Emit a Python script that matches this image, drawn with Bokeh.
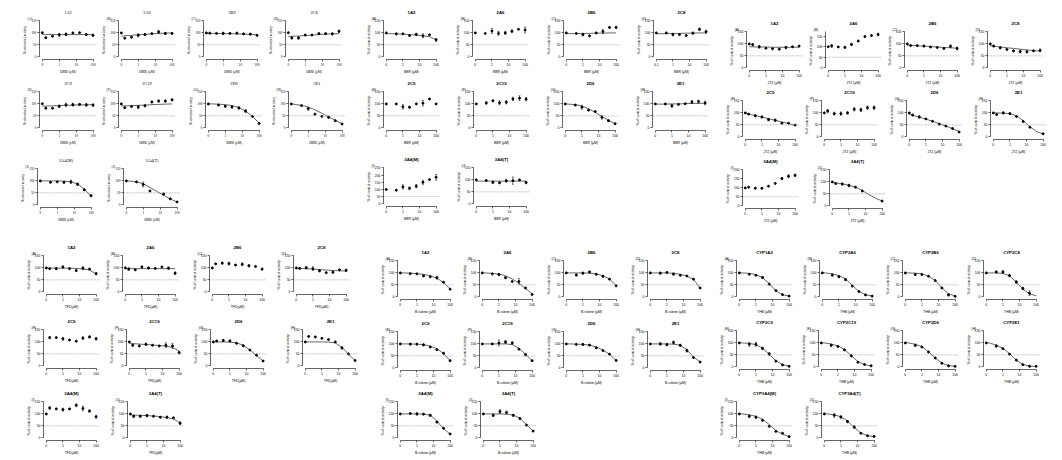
import math
from bokeh.plotting import figure
from bokeh.models import (FixedTicker, Span, Title, Whisker, TeeHead, ColumnDataSource, Spacer)
from bokeh.layouts import row, column
from bokeh.embed import file_html
from bokeh.resources import INLINE

# ---------------- data ----------------
CONC = [0, 0.16, 0.4, 1, 2.5, 6.4, 16, 40, 100]   # µM; 0 is drawn at the "0" tick
LETTERS = ["(A)", "(B)", "(C)", "(D)", "(E)", "(F)", "(G)", "(H)", "(I)", "(J)"]
ENZ = ["1A2", "2A6", "2B6", "2C8", "2C9", "2C19", "2D6", "2E1", "3A4(M)", "3A4(T)"]
THB_TITLES = ["CYP1A2", "CYP2A6", "CYP2B6", "CYP2C8", "CYP2C9", "CYP2C19",
              "CYP2D6", "CYP2E1", "CYP3A4(M)", "CYP3A4(T)"]
X_TICKS = [0.1, 1, 10, 100]
X_TICK_LABELS = ["0", "1", "10", "100"]
Y_LABEL = "% of control activity"

N = None
DMB_MEAN = [
    [101, 80, 86, 92, 94, 100, 101, 93, 90],
    [100, 78, 82, 90, 93, 97, 104, 98, 98],
    [100, 99, 98, 98, 98, 99, 96, 95, 90],
    [101, 79, 79, 91, 91, 97, 97, 96, 107],
    [101, 82, 82, 90, 96, 97, 98, 96, 95],
    [100, 84, 89, 87, 92, 108, 112, 112, 117],
    [100, N, 95, 90, 87, 83, 70, 48, 18],
    [100, N, 93, 80, 57, 48, 44, 30, 16],
    [100, N, 94, 96, 94, 96, 86, 63, 38],
    [100, N, 96, 85, 58, N, 45, 25, 12],
]
DMB_ERR = [
    [0, 2, 0, 6, 6, 0, 0, 4, 5],
    [0, 0, 0, 6, 4, 0, 7, 4, 4],
    [0, 3, 0, 5, 0, 3, 0, 3, 3],
    [0, 4, 5, 0, 0, 3, 3, 4, 5],
    [0, 2, 0, 5, 7, 6, 4, 6, 5],
    [0, 3, 0, 6, 4, 3, 4, 4, 4],
    [0, 0, 0, 3, 5, 5, 6, 0, 0],
    [0, 0, 0, 6, 0, 0, 4, 0, 0],
    [0, 0, 0, 0, 4, 7, 5, 3, 4],
    [0, 0, 0, 10, 0, 0, 4, 0, 0],
]
DMB_FIT = [
    [93, 93, 93, 93, 93, 93, 93, 93, 93],
    [86, 88, 90, 92, 94, 96, 98, 99, 100],
    [98, 98, 98, 97, 97, 96, 95, 94, 92],
    [85, 86, 87, 89, 91, 93, 95, 96, 97],
    [91, 91, 92, 93, 94, 95, 96, 96, 97],
    [91, 92, 93, 94, 95, 97, 98, 99, 100],
    [100, 100, 99, 97, 93, 85, 70, 48, 20],
    [100, 98, 94, 87, 75, 61, 46, 31, 17],
    [100, 100, 100, 100, 99, 96, 88, 65, 36],
    [100, 99, 96, 88, 73, 56, 40, 24, 12],
]
DMB_YTOP = [150] * 10

BBR_MEAN = [
    [100, N, 96, 96, 89, 94, 88, 92, 71],
    [100, N, 98, 108, 98, 100, 107, 115, 112],
    [100, N, 98, 93, 88, 100, 106, 123, 123],
    [100, N, 100, 93, 93, 89, 99, 115, 105],
    [100, N, 100, 88, 86, 100, 103, 121, 100],
    [100, N, 104, 113, 105, 107, 121, 124, 120],
    [100, N, 95, 86, 74, 68, 44, 30, 17],
    [100, N, 100, 92, 98, 101, 108, 110, 104],
    [100, N, 95, 118, 108, 123, 150, 169, 185],
    [100, N, 98, 90, 88, 96, 97, 100, 89],
]
BBR_ERR = [
    [0, 0, 3, 0, 0, 3, 8, 0, 6],
    [0, 0, 0, 10, 8, 6, 6, 0, 12],
    [0, 0, 0, 5, 0, 0, 8, 3, 5],
    [0, 0, 0, 5, 0, 0, 4, 5, 6],
    [0, 0, 0, 10, 4, 0, 12, 0, 0],
    [0, 0, 5, 4, 8, 7, 7, 10, 7],
    [0, 0, 0, 8, 0, 0, 8, 3, 0],
    [0, 0, 0, 6, 0, 0, 6, 6, 8],
    [0, 0, 0, 15, 10, 12, 14, 0, 20],
    [0, 0, 0, 5, 0, 5, 15, 0, 5],
]
BBR_FIT = [
    [97, 97, 96, 95, 93, 91, 88, 84, 71],
    N,
    [97, 97, 97, 98, 98, 99, 99, 100, 100],
    [97, 97, 97, 98, 98, 99, 99, 100, 100],
    N,
    N,
    [100, 99, 97, 91, 80, 65, 47, 31, 17],
    [99, 99, 99, 100, 100, 101, 102, 102, 103],
    N,
    [95, 95, 95, 95, 95, 95, 95, 95, 95],
]
BBR_YTOP = [150, 150, 150, 150, 150, 150, 150, 150, 250, 150]

JTZ_MEAN = [
    [100, 97, 88, 82, 80, 78, 85, 88, 91],
    [100, 104, 99, 97, 111, 127, 148, 153, 158],
    [100, 93, 93, 91, 87, 85, 81, 90, 81],
    [100, 91, 84, 77, 71, 68, 67, 71, 73],
    [100, 95, 88, 83, 72, 69, 57, 57, 49],
    [100, 108, 97, 97, 100, 115, 113, 122, 122],
    [100, 91, 83, 75, 65, 53, 45, 35, 20],
    [100, 93, 100, 97, 85, 64, 40, N, 13],
    [100, 104, 98, 98, 109, 125, 152, 165, 170],
    [100, 93, 91, 85, 78, 62, N, N, 20],
]
JTZ_ERR = [
    [0, 5, 6, 0, 0, 0, 5, 0, 0],
    [0, 6, 0, 5, 5, 0, 0, 0, 6],
    [0, 0, 0, 4, 0, 0, 0, 6, 6],
    [0, 3, 4, 0, 0, 6, 5, 0, 6],
    [0, 0, 4, 4, 5, 5, 0, 0, 0],
    [0, 7, 6, 7, 5, 7, 7, 7, 7],
    [0, 0, 5, 0, 0, 0, 0, 0, 0],
    [0, 0, 4, 4, 0, 0, 0, 0, 0],
    [0, 0, 0, 4, 0, 0, 6, 7, 7],
    [0, 0, 4, 5, 0, 0, 0, 0, 0],
]
JTZ_FIT = [
    [88, 88, 87, 87, 86, 86, 86, 86, 86],
    N,
    [95, 94, 92, 91, 89, 87, 85, 84, 82],
    [92, 90, 87, 84, 81, 78, 75, 72, 70],
    [98, 95, 89, 83, 76, 69, 62, 55, 48],
    N,
    [95, 90, 82, 74, 65, 55, 45, 34, 22],
    [100, 100, 99, 97, 88, 67, 42, 22, 12],
    N,
    [100, 96, 92, 86, 78, 64, 47, 32, 20],
]
JTZ_YTOP = [150, 170, 150, 150, 150, 150, 150, 150, 200, 150]

TFD_MEAN = [
    [100, 97, 97, 104, 97, 89, 99, 95, 76],
    [100, 95, 92, 104, 100, 98, 104, 99, 78],
    [100, 117, 120, 118, 112, 115, 109, 106, 95],
    [100, 98, 101, 97, 88, 80, 82, 92, 90],
    [N, 118, 118, 113, 108, 103, 116, 121, 113],
    [100, 86, 83, 90, 86, 83, 86, 83, 55],
    [100, 104, 106, 104, 94, 84, 66, 45, 20],
    [100, 123, 121, 115, 110, 100, 75, 50, 22],
    [100, 125, 121, 118, 121, 136, 123, 112, 88],
    [100, 90, 90, 93, 90, 86, 86, 84, 61],
]
TFD_ERR = [
    [0, 0, 4, 4, 0, 4, 6, 0, 5],
    [0, 6, 0, 4, 3, 0, 0, 5, 5],
    [0, 0, 4, 6, 0, 6, 5, 0, 4],
    [0, 0, 5, 8, 4, 0, 5, 0, 5],
    [0, 4, 0, 6, 0, 0, 5, 4, 5],
    [0, 4, 0, 5, 0, 0, 10, 10, 5],
    [0, 0, 4, 4, 0, 4, 0, 0, 0],
    [0, 0, 0, 0, 0, 0, 5, 0, 0],
    [0, 5, 0, 6, 0, 6, 10, 5, 6],
    [0, 5, 5, 5, 0, 0, 5, 0, 6],
]
TFD_FIT = [
    [99, 99, 99, 99, 99, 98, 96, 91, 75],
    [97, 97, 97, 97, 97, 97, 97, 97, 97],
    N,
    [99, 98, 97, 95, 93, 91, 89, 88, 87],
    N,
    [95, 93, 91, 89, 87, 85, 82, 77, 62],
    [100, 100, 100, 99, 96, 86, 66, 43, 20],
    [100, 100, 100, 100, 99, 96, 78, 48, 22],
    N,
    [96, 95, 94, 93, 91, 89, 85, 79, 62],
]
TFD_YTOP = [150] * 10

BRU_MEAN = [
    [100, N, 97, 96, 88, 84, 80, 61, 32],
    [100, N, 96, 93, 80, 64, 64, 37, 10],
    [100, N, 91, 99, 104, 94, 86, 74, 46],
    [100, N, 99, 102, 95, 90, 87, 74, 37],
    [100, N, 99, 99, 96, 87, 76, 61, 30],
    [100, N, 100, 104, 108, 104, 78, 55, 30],
    [100, N, 98, 98, 95, 84, 72, 57, 31],
    [100, N, 100, 97, 106, 94, 72, 43, 24],
    [100, N, 102, 100, 99, 94, 66, 40, 16],
    [100, N, 94, 110, 106, 94, 81, 53, 28],
]
BRU_ERR = [
    [0, 0, 0, 0, 4, 0, 6, 0, 0],
    [0, 0, 0, 4, 4, 0, 12, 0, 0],
    [0, 0, 4, 4, 4, 0, 4, 0, 0],
    [0, 0, 4, 0, 5, 0, 0, 0, 0],
    [0, 0, 3, 0, 4, 0, 0, 0, 0],
    [0, 0, 0, 12, 6, 5, 0, 5, 0],
    [0, 0, 0, 4, 0, 0, 0, 0, 0],
    [0, 0, 5, 5, 6, 4, 6, 0, 0],
    [0, 0, 0, 5, 0, 4, 3, 0, 0],
    [0, 0, 5, 8, 6, 4, 4, 0, 0],
]
BRU_FIT = [
    [100, 100, 99, 97, 94, 88, 78, 60, 33],
    [100, 100, 98, 95, 88, 75, 57, 35, 13],
    [100, 100, 100, 100, 99, 96, 88, 75, 47],
    [100, 100, 100, 100, 98, 94, 87, 73, 37],
    [100, 100, 100, 99, 97, 91, 80, 60, 30],
    [100, 100, 100, 100, 100, 97, 82, 57, 30],
    [100, 100, 99, 98, 95, 87, 74, 57, 31],
    [100, 100, 100, 100, 99, 95, 75, 45, 25],
    [100, 100, 100, 100, 99, 95, 70, 38, 16],
    [100, 100, 100, 100, 99, 95, 82, 55, 28],
]
BRU_YTOP = [150] * 10

THB_MEAN = [
    [100, N, 94, 90, 81, 53, 26, 9, 3],
    [100, N, 91, 84, 72, 45, 22, 8, 3],
    [100, N, 93, 93, 86, 68, 37, 8, 2],
    [100, N, 104, 104, 89, 62, 35, 15, N],
    [100, N, 94, 94, 77, 54, 24, 8, 2],
    [100, N, 90, 85, 71, 46, 19, 10, 4],
    [100, N, 90, 83, 62, 37, 15, 4, 2],
    [100, N, 87, 76, 53, 28, 9, 2, 2],
    [100, N, 90, 86, 73, 48, 27, 19, 5],
    [100, N, 94, 87, 68, 45, 19, 9, 6],
]
THB_ERR = [
    [0, 0, 0, 0, 4, 0, 0, 0, 0],
    [0, 0, 4, 4, 4, 0, 0, 0, 0],
    [0, 0, 4, 0, 0, 0, 0, 4, 0],
    [0, 0, 4, 5, 5, 5, 5, 10, 0],
    [0, 0, 8, 8, 5, 5, 0, 0, 0],
    [0, 0, 5, 0, 0, 4, 0, 0, 0],
    [0, 0, 5, 0, 0, 0, 0, 0, 0],
    [0, 0, 5, 0, 0, 0, 0, 0, 0],
    [0, 0, 5, 5, 0, 0, 0, 0, 0],
    [0, 0, 8, 5, 5, 5, 0, 0, 0],
]
THB_FIT = [
    [100, 100, 98, 93, 80, 55, 25, 9, 3],
    [100, 100, 96, 89, 75, 48, 23, 9, 3],
    [100, 100, 99, 96, 87, 68, 38, 13, 4],
    [100, 100, 100, 98, 88, 62, 32, 12, 5],
    [100, 100, 98, 93, 78, 52, 25, 9, 3],
    [100, 100, 95, 88, 72, 47, 22, 9, 4],
    [100, 100, 94, 85, 63, 37, 15, 5, 2],
    [100, 100, 90, 78, 55, 28, 10, 3, 1],
    [100, 100, 96, 90, 78, 55, 30, 15, 5],
    [100, 100, 96, 88, 70, 43, 20, 9, 5],
]
THB_YTOP = [150] * 10

# ---------------- styling / geometry ----------------
ZERO_POS = 0.1
X_LO, X_HI = 0.068, 160
L, R, T, B = 16, 3, 13, 13
FW, FH = 60, 43
W = L + FW + R
H = T + FH + B
ORIGIN = 0

GROUPS_TOP = [
    dict(mean=DMB_MEAN, err=DMB_ERR, fit=DMB_FIT, ytop=DMB_YTOP, titles=ENZ,
         xlabel="DMB (μM)", font="Liberation Serif", bold=False,
         cols=[[36, 115, 200, 282], [36, 113, 202, 285], [34, 120]], tops=[20, 91, 168]),
    dict(mean=BBR_MEAN, err=BBR_ERR, fit=BBR_FIT, ytop=BBR_YTOP, titles=ENZ,
         xlabel="BBR (μM)", font="Liberation Sans", bold=True, zero_label={3: "0.1"},
         cols=[[379, 468, 559, 649], [379, 469, 558, 648], [379, 469]], tops=[20, 91, 167]),
    dict(mean=JTZ_MEAN, err=JTZ_ERR, fit=JTZ_FIT, ytop=JTZ_YTOP, titles=ENZ,
         xlabel="JTZ (μM)", font="Liberation Sans", bold=True,
         cols=[[742, 820, 900, 983], [738, 817, 902, 986], [738, 825]], tops=[31, 100, 168]),
]
GROUPS_BOTTOM = [
    dict(mean=TFD_MEAN, err=TFD_ERR, fit=TFD_FIT, ytop=TFD_YTOP, titles=ENZ,
         xlabel="TFD(μM)", font="Liberation Sans", bold=True,
         cols=[[39, 118, 205, 289], [39, 122, 206, 298], [39, 123]], tops=[255, 329, 401]),
    dict(mean=BRU_MEAN, err=BRU_ERR, fit=BRU_FIT, ytop=BRU_YTOP, titles=ENZ,
         xlabel="B-rubine (μM)", font="Liberation Sans", bold=True,
         cols=[[393, 475, 559, 643], [393, 475, 559, 643], [393, 476]], tops=[260, 331, 401]),
    dict(mean=THB_MEAN, err=THB_ERR, fit=THB_FIT, ytop=THB_YTOP, titles=THB_TITLES,
         xlabel="THB (μM)", font="Liberation Sans", bold=True,
         cols=[[732, 815, 898, 979], [732, 814, 898, 979], [732, 817]], tops=[260, 330, 401]),
]

TICK_FS = "3.4px"
LAB_FS = "3.4px"
TITLE_FS = "4.3px"


def make_fig(g, k):
    ytop = g["ytop"][k]
    yhi = ytop * 1.013
    ylo = -ytop * 0.075
    font = g["font"]
    p = figure(width=W, height=H, x_axis_type="log", x_range=(X_LO, X_HI),
               y_range=(ylo, yhi), output_backend="svg", toolbar_location=None,
               min_border_left=L, min_border_right=R, min_border_top=T,
               min_border_bottom=B)
    p.outline_line_color = None
    p.grid.visible = False
    p.background_fill_color = "white"

    p.title.text = g["titles"][k]
    p.title.align = "center"
    p.title.text_font = font
    p.title.text_font_size = TITLE_FS
    p.title.text_font_style = "bold" if g["bold"] else "normal"
    p.title.text_color = "black"
    p.title.standoff = 0
    p.title.offset = 0
    p.add_layout(Title(text=LETTERS[k], align="left", offset=-12, standoff=0,
                       text_font=font, text_font_size="3.4px", text_font_style="normal",
                       text_color="black"), "above")

    zl = g.get("zero_label", {}).get(k, X_TICK_LABELS[0])
    labels = [zl] + X_TICK_LABELS[1:]
    p.xaxis.ticker = FixedTicker(ticks=X_TICKS)
    p.xaxis.major_label_overrides = {t: s for t, s in zip(X_TICKS, labels)}
    p.xaxis.bounds = (X_TICKS[0], X_TICKS[-1])
    p.yaxis.ticker = FixedTicker(ticks=list(range(0, ytop + 1, 50)))
    p.yaxis.bounds = (0, ytop)
    p.xaxis.axis_label = g["xlabel"]
    p.yaxis.axis_label = Y_LABEL
    for ax in (p.xaxis[0], p.yaxis[0]):
        ax.major_label_text_font = font
        ax.major_label_text_font_size = TICK_FS
        ax.axis_label_text_font = font
        ax.axis_label_text_font_size = LAB_FS
        ax.axis_label_text_font_style = "normal"
        ax.axis_label_text_color = "black"
        ax.major_tick_out = 2
        ax.major_tick_in = 0
        ax.minor_tick_line_color = None
        ax.axis_line_width = 0.6
        ax.major_tick_line_width = 0.6
        ax.major_label_standoff = 1
        ax.axis_label_standoff = 1
        ax.axis_line_color = "black"
        ax.major_label_text_color = "black"

    p.add_layout(Span(location=50, dimension="width", line_color="#9a9a9a",
                      line_dash="2 1", line_width=0.6))

    xs = [ZERO_POS if c == 0 else c for c in CONC]
    mean = g["mean"][k]
    err = g["err"][k]
    fit = g["fit"][k]
    if fit is not None:
        p.line(xs, fit, line_color="black", line_width=0.6)
    px = [x for x, m in zip(xs, mean) if m is not None]
    py = [m for m in mean if m is not None]
    p.scatter(px, py, size=2.0, color="black", marker="circle")
    wb, wl, wu = [], [], []
    for x, m, e in zip(xs, mean, err):
        if m is not None and e:
            wb.append(x); wl.append(m - e); wu.append(m + e)
    if wb:
        src = ColumnDataSource(dict(base=wb, lower=wl, upper=wu))
        p.add_layout(Whisker(base="base", lower="lower", upper="upper", source=src,
                             dimension="height", line_color="black", line_width=0.5,
                             upper_head=TeeHead(size=2, line_width=0.5, line_color="black"),
                             lower_head=TeeHead(size=2, line_width=0.5, line_color="black")))
    return p


def build_half(groups, half_top, half_bottom):
    items = []
    cursor_x = ORIGIN
    for g in groups:
        gl = max(min(c[0] for c in g["cols"]) - L, cursor_x)
        if gl > cursor_x:
            items.append(Spacer(width=gl - cursor_x, height=1))
        col_children = []
        cy = half_top
        k = 0
        gright = gl
        for cols, top in zip(g["cols"], g["tops"]):
            fy = max(top - T, cy)
            if fy > cy:
                col_children.append(Spacer(width=1, height=fy - cy))
            cy = fy + H
            rx = gl
            rch = []
            for c in cols:
                fx = max(c - L, rx)
                if fx > rx:
                    rch.append(Spacer(width=fx - rx, height=1))
                rch.append(make_fig(g, k))
                k += 1
                rx = fx + W
            gright = max(gright, rx)
            col_children.append(row(rch))
        if cy < half_bottom:
            col_children.append(Spacer(width=1, height=half_bottom - cy))
        items.append(column(col_children))
        cursor_x = gright
    return row(items)


top_half = build_half(GROUPS_TOP, ORIGIN, 232)
bottom_half = build_half(GROUPS_BOTTOM, 232, 457)
page = column(top_half, bottom_half)

open("out.html", "w").write(file_html(page, INLINE))
